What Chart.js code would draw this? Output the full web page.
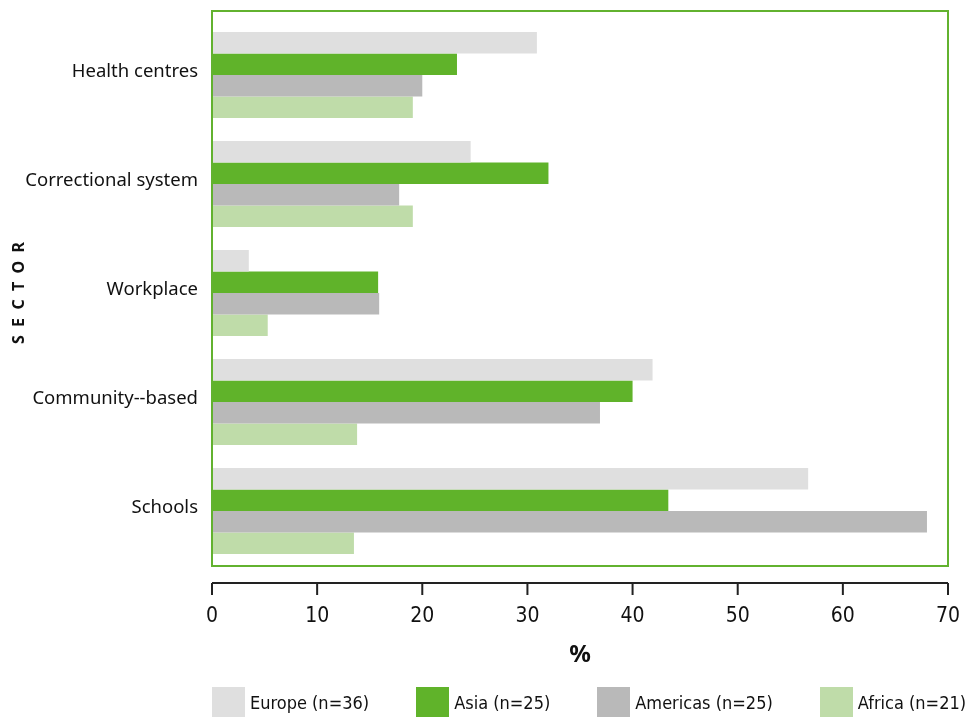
<!DOCTYPE html>
<html>
<head>
<meta charset="utf-8">
<script src="https://cdn.jsdelivr.net/npm/chart.js@4.4.1/dist/chart.umd.min.js"></script>
<style>
  html, body { margin: 0; padding: 0; background: #fff; overflow: hidden; }
  #wrap { width: 966px; height: 717px; position: relative; }
  #wrap canvas { display: block; }
  .legend { position: absolute; left: 212px; top: 687px; display: flex; gap: 47px; margin: 0; padding: 0; list-style: none; white-space: nowrap; }
  .legend li { display: flex; align-items: center; height: 30px; flex: none; }
  .legend .box { width: 33px; height: 30px; margin-right: 5px; }
  .legend .txt { font: 18px 'Liberation Sans Narrow', 'DejaVu Sans Condensed', 'Liberation Sans', sans-serif; color: #111; }
</style>
</head>
<body>
<div id="wrap"><canvas id="sectorChart"></canvas><ul class="legend" id="legend"></ul></div>
<script>
// Data
const sectors = ['Health centres', 'Correctional system', 'Workplace', 'Community--based', 'Schools'];
const regionNames = ['Europe (n=36)', 'Asia (n=25)', 'Americas (n=25)', 'Africa (n=21)'];
const europe = [30.9, 24.6, 3.5, 41.9, 56.7];
const asia = [23.3, 32.0, 15.8, 40.0, 43.4];
const americas = [20.0, 17.8, 15.9, 36.9, 68.0];
const africa = [19.1, 19.1, 5.3, 13.8, 13.5];
const xTicks = [0, 10, 20, 30, 40, 50, 60, 70];

const colours = ['#dfdfdf', '#60b32a', '#b9b9b9', '#bfdca9'];
const green = '#62b22f';
const narrowFont = "'Liberation Sans Narrow', 'DejaVu Sans Condensed', 'Liberation Sans', sans-serif";

// Green frame round the plot and a detached x axis line below it
const framePlugin = {
    id: 'frame',
    afterDatasetsDraw(chart) {
        const { ctx, chartArea } = chart;
        ctx.save();
        ctx.strokeStyle = green;
        ctx.lineWidth = 2;
        ctx.strokeRect(chartArea.left, chartArea.top - 9.5, chartArea.right - chartArea.left, chartArea.bottom - chartArea.top + 10);
        ctx.restore();
    },
    afterDraw(chart) {
        const { ctx, chartArea } = chart;
        const x = chart.scales.x;
        const y0 = chartArea.bottom + 17.5;
        ctx.save();
        ctx.strokeStyle = '#222';
        ctx.lineWidth = 2;
        ctx.beginPath();
        ctx.moveTo(x.getPixelForValue(xTicks[0]), y0);
        ctx.lineTo(x.getPixelForValue(xTicks[xTicks.length - 1]), y0);
        xTicks.forEach(v => {
            const px = x.getPixelForValue(v);
            ctx.moveTo(px, y0);
            ctx.lineTo(px, y0 + 12);
        });
        ctx.stroke();
        ctx.restore();
    }
};

const datasets = [europe, asia, americas, africa].map((values, i) => ({
    label: regionNames[i],
    data: values,
    backgroundColor: colours[i],
    borderWidth: 0,
    barPercentage: 1.0,
    categoryPercentage: 0.79
}));

const chart = new Chart(document.getElementById('sectorChart'), {
    type: 'bar',
    data: { labels: sectors, datasets: datasets },
    options: {
        indexAxis: 'y',
        responsive: true,
        maintainAspectRatio: false,
        animation: false,
        layout: { padding: { top: 20.5, right: 18, left: 0, bottom: 41.5 } },
        plugins: {
            tooltip: { enabled: false },
            legend: { display: false }
        },
        scales: {
            x: {
                min: 0,
                max: 70,
                afterFit(scale) { scale.height = 110; },
                afterBuildTicks(scale) { scale.ticks = xTicks.map(v => ({ value: v })); },
                grid: { display: true, drawOnChartArea: false, drawTicks: true, tickLength: 36, color: 'rgba(0,0,0,0)' },
                border: { display: false },
                ticks: {
                    padding: 2,
                    color: '#111',
                    font: { family: narrowFont, size: 21 }
                },
                title: {
                    display: true,
                    text: '%',
                    color: '#111',
                    font: { family: "'Noto Sans', sans-serif", size: 24, weight: 'bold' },
                    padding: { top: 0, bottom: 6 }
                }
            },
            y: {
                afterFit(scale) { scale.width = 212; },
                grid: { display: true, drawOnChartArea: false, drawTicks: true, tickLength: 12, color: 'rgba(0,0,0,0)' },
                border: { display: false },
                ticks: {
                    padding: 2,
                    labelOffset: -3,
                    color: '#111',
                    font: { family: "'Noto Sans', sans-serif", size: 18.5 }
                },
                title: {
                    display: true,
                    text: 'S  E  C  T  O  R',
                    color: '#111',
                    font: { family: "'Noto Sans', sans-serif", size: 16, weight: 'bold' },
                    padding: { top: 10, bottom: 0 }
                }
            }
        }
    },
    plugins: [framePlugin]
});

// HTML legend built from the chart's own legend items
function buildLegend() {
    const list = document.getElementById('legend');
    list.innerHTML = '';
    const items = Chart.defaults.plugins.legend.labels.generateLabels(chart);
    items.forEach(item => {
        const li = document.createElement('li');
        const box = document.createElement('span');
        box.className = 'box';
        box.style.background = item.fillStyle;
        const txt = document.createElement('span');
        txt.className = 'txt';
        txt.textContent = item.text;
        li.appendChild(box);
        li.appendChild(txt);
        list.appendChild(li);
    });
}

buildLegend();
</script>
</body>
</html>
